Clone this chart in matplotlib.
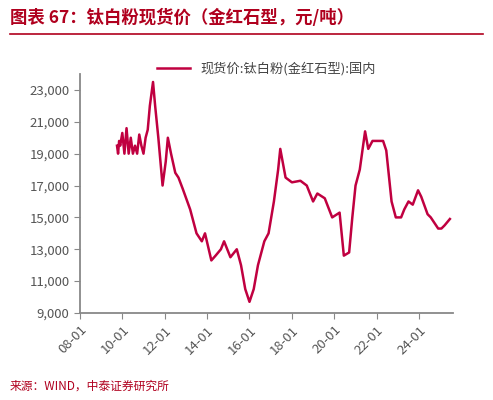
import matplotlib
matplotlib.use("Agg")
import matplotlib.pyplot as plt
import matplotlib.dates as mdates
import datetime as dt

plt.rcParams['font.family'] = ['Noto Sans CJK SC', 'DejaVu Sans']

years = [2009.75,2009.8,2009.85,2009.9,2010.0,2010.1,2010.2,2010.3,2010.4,2010.5,2010.6,2010.7,2010.8,2010.9,2011.0,2011.1,2011.2,2011.3,2011.45,2011.55,2011.7,2011.9,2012.05,2012.15,2012.3,2012.5,2012.65,2012.85,2013.2,2013.5,2013.75,2013.9,2014.2,2014.4,2014.65,2014.8,2015.1,2015.4,2015.6,2015.8,2016.0,2016.2,2016.4,2016.7,2016.9,2017.15,2017.35,2017.45,2017.7,2018.0,2018.4,2018.7,2019.0,2019.2,2019.55,2019.9,2020.25,2020.45,2020.7,2020.85,2021.0,2021.2,2021.45,2021.6,2021.8,2022.3,2022.45,2022.7,2022.9,2023.15,2023.3,2023.5,2023.7,2023.95,2024.1,2024.4,2024.55,2024.9,2025.05,2025.2,2025.45]
prices = [19500,19000,19800,19500,20300,19000,20600,19000,20000,19000,19500,19000,20200,19500,19000,20000,20500,22000,23500,22000,20000,17000,18500,20000,19000,17800,17500,16800,15500,14000,13500,14000,12300,12600,13000,13500,12500,13000,12000,10500,9700,10500,12000,13500,14000,16000,18000,19300,17500,17200,17300,17000,16000,16500,16200,15000,15300,12600,12800,15000,17000,18000,20400,19300,19800,19800,19200,16000,15000,15000,15500,16000,15800,16700,16300,15200,15000,14300,14300,14500,14900]

def todate(y):
    yr = int(y); d = dt.datetime(yr,1,1) + dt.timedelta(days=(y-yr)*365.25)
    return d
dates = [todate(y) for y in years]

fig = plt.figure(figsize=(4.93,4.0), dpi=100)
ax = fig.add_axes([0.162, 0.2175, 0.757, 0.5975])
red = '#C00040'
ax.plot(dates, prices, color=red, lw=1.8, label='现货价:钛白粉(金红石型):国内')
ax.set_xlim(dt.datetime(2008,1,1), todate(2025.6))
ax.set_ylim(9000, 24000)
ax.set_yticks(range(9000, 23001, 2000))
ax.set_yticklabels([f'{v:,}' for v in range(9000, 23001, 2000)])
ax.xaxis.set_major_locator(mdates.YearLocator(2))
ax.xaxis.set_major_formatter(mdates.DateFormatter('%y-%m'))
for l in ax.get_xticklabels():
    l.set_rotation(45); l.set_ha('right'); l.set_rotation_mode('anchor')
ax.tick_params(colors='#555555', labelsize=9.5, length=4, color='#888888')
for s in ['top','right']:
    ax.spines[s].set_visible(False)
for s in ['left','bottom']:
    ax.spines[s].set_color('#888888'); ax.spines[s].set_linewidth(1.3)
ax.legend(loc='upper center', bbox_to_anchor=(0.5, 1.1), frameon=False, fontsize=9.5,
          handlelength=2.5, labelcolor='#444444')
fig.text(0.02, 0.955, '图表 67：钛白粉现货价（金红石型，元/吨）', color='#B0001E', fontsize=12.5,
         fontweight='bold', style='italic', va='center')
fig.add_artist(plt.Line2D([0.02, 0.98], [0.915, 0.915], color='#B0001E', lw=1.2))
fig.text(0.02, 0.035, '来源：WIND，中泰证券研究所', color='#B0001E', fontsize=8.5, va='center')
fig.savefig('out.png', dpi=100, facecolor='white')
